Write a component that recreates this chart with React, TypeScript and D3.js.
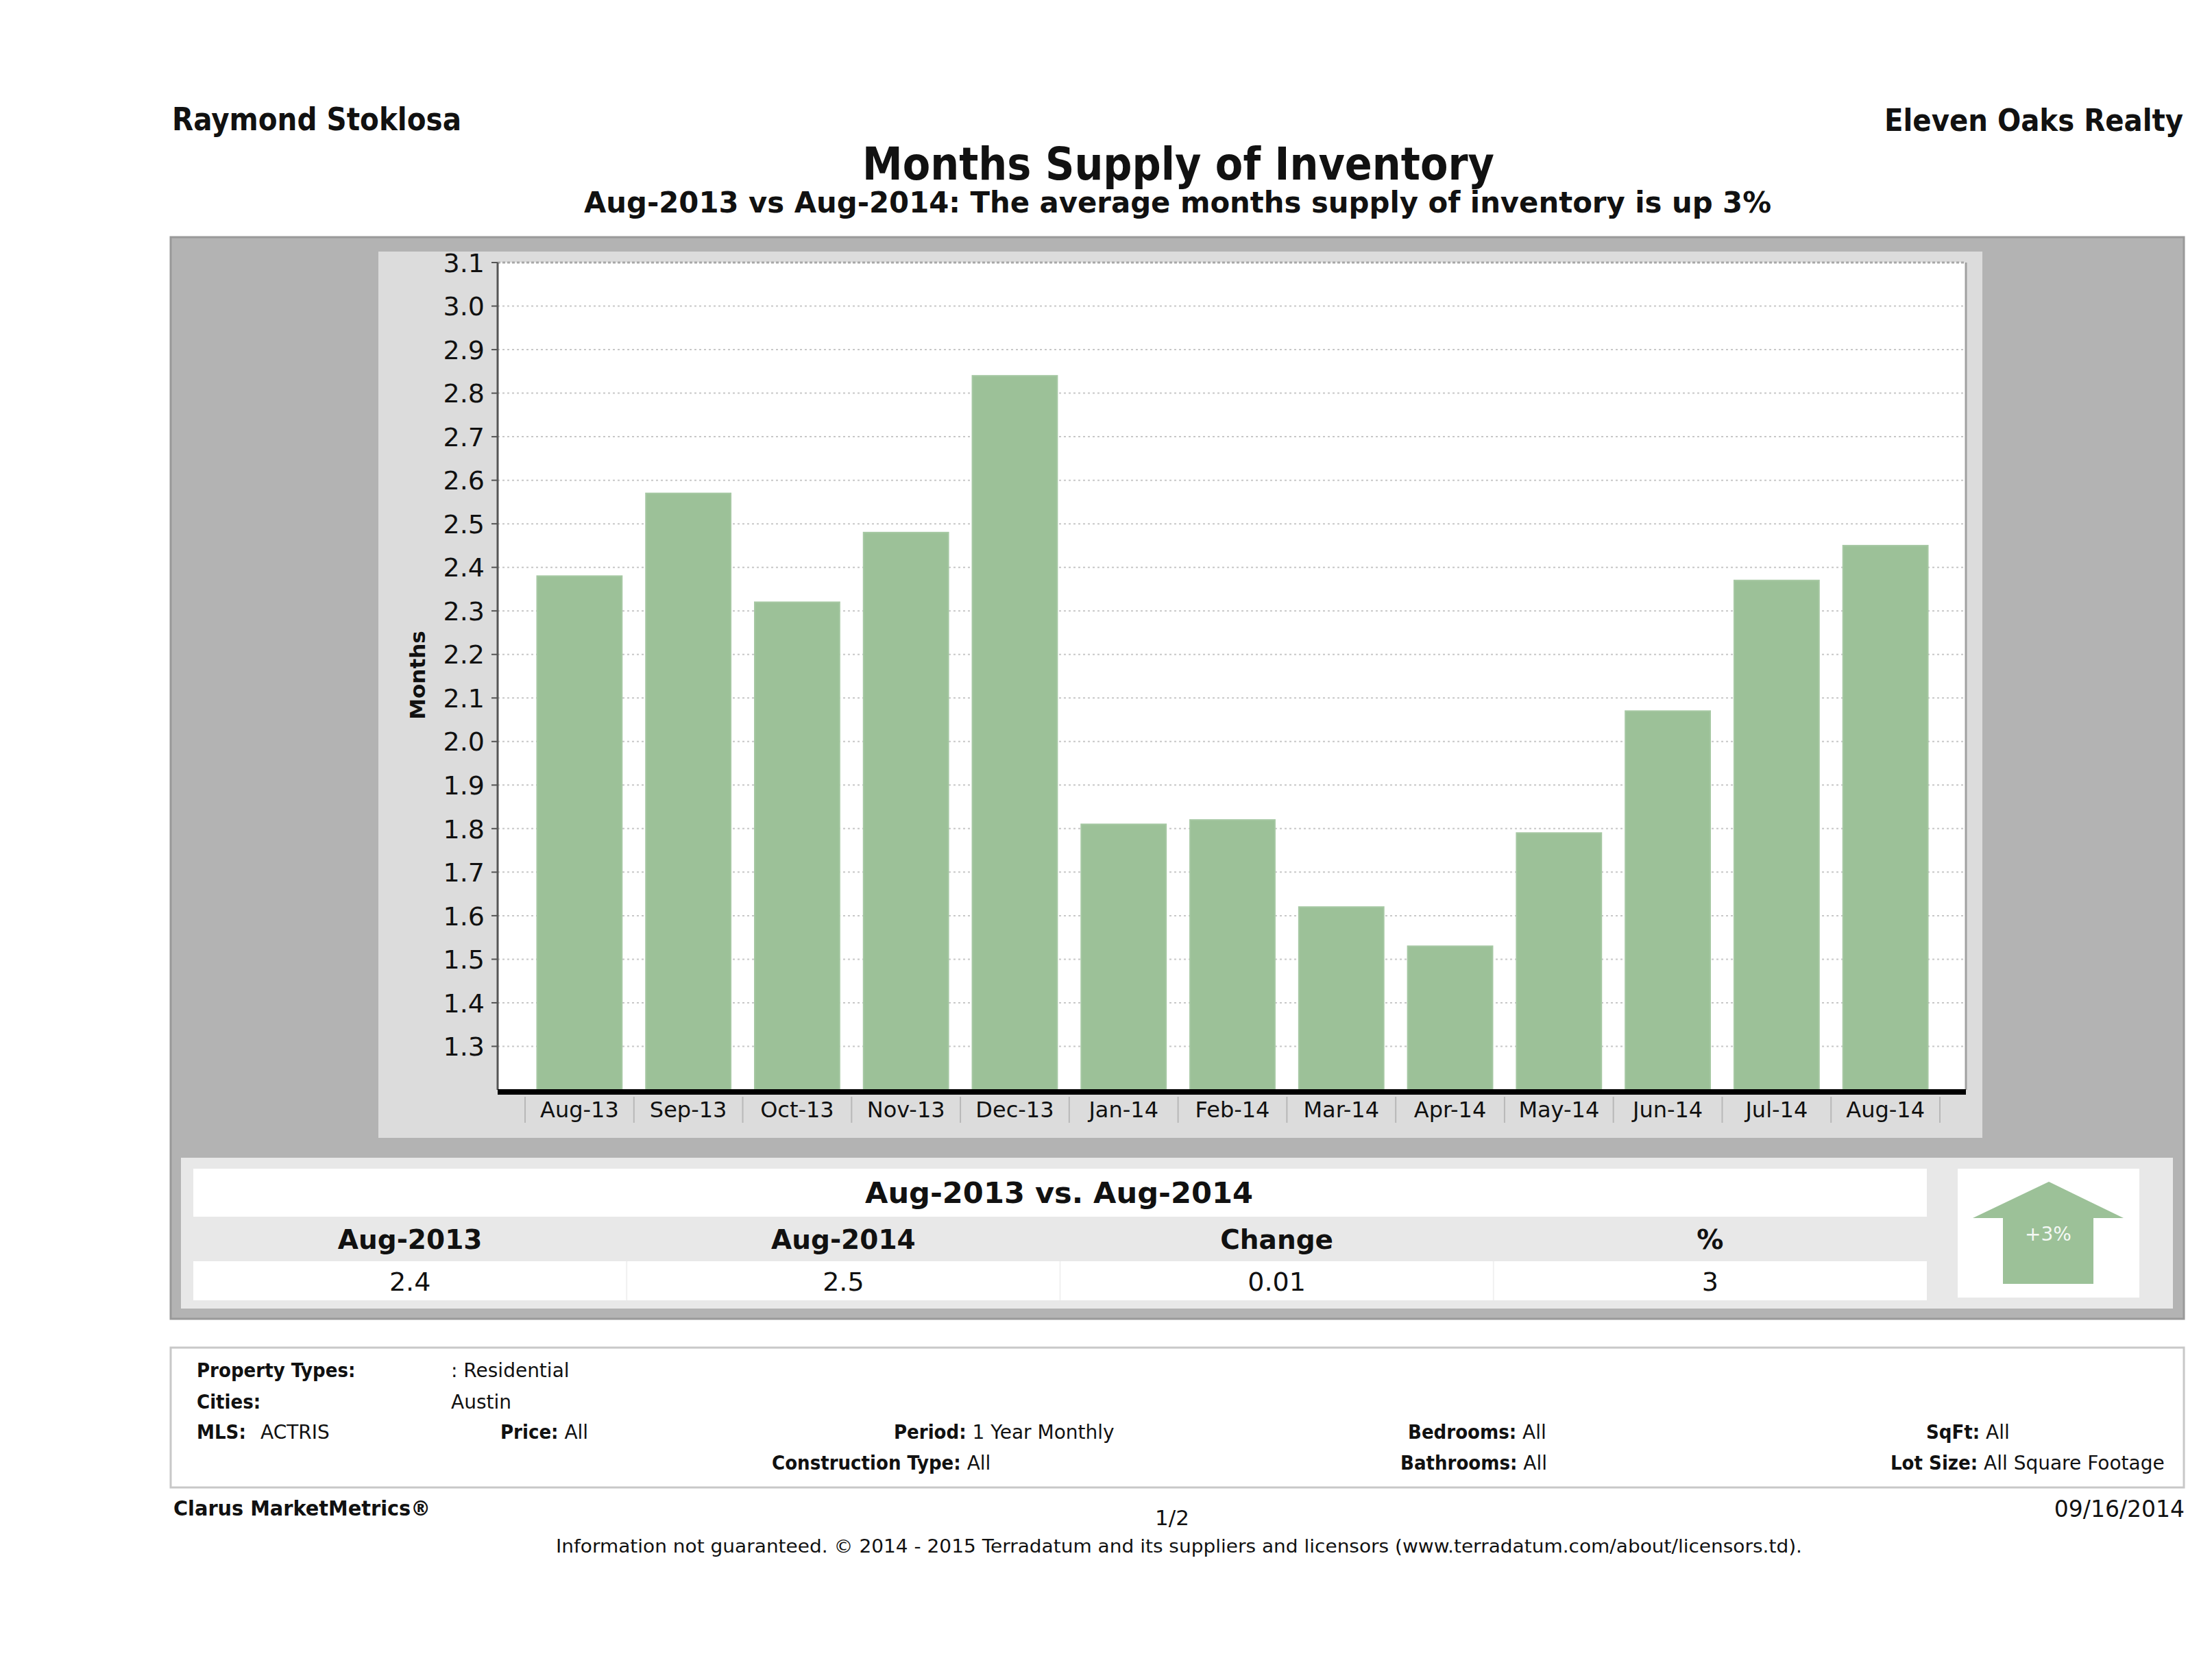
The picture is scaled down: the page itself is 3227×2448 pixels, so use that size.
import React from "react";
import * as d3 from "d3";

// ---------- data ----------
const months = ["Aug-13", "Sep-13", "Oct-13", "Nov-13", "Dec-13", "Jan-14", "Feb-14", "Mar-14", "Apr-14", "May-14", "Jun-14", "Jul-14", "Aug-14"];
const supply = [2.38, 2.57, 2.32, 2.48, 2.84, 1.81, 1.82, 1.62, 1.53, 1.79, 2.07, 2.37, 2.45];
const yTickValues = [1.3, 1.4, 1.5, 1.6, 1.7, 1.8, 1.9, 2.0, 2.1, 2.2, 2.3, 2.4, 2.5, 2.6, 2.7, 2.8, 2.9, 3.0, 3.1];
const yDomain = [1.2, 3.1];

const summaryTitle = "Aug-2013 vs. Aug-2014";
const summaryHeaders = ["Aug-2013", "Aug-2014", "Change", "%"];
const summaryValues = ["2.4", "2.5", "0.01", "3"];
const changeLabel = "+3%";

const agentName = "Raymond Stoklosa";
const brokerName = "Eleven Oaks Realty";
const chartTitle = "Months Supply of Inventory";
const chartSubtitle = "Aug-2013 vs Aug-2014: The average months supply of inventory is up 3%";
const yAxisLabel = "Months";

const filterRows = [
  { label: "Property Types:", value: ": Residential", lx: 287, vx: 658, row: 0 },
  { label: "Cities:", value: "Austin", lx: 287, vx: 658, row: 1 },
  { label: "MLS:", value: "ACTRIS", lx: 287, vx: 380, row: 2 },
  { label: "Price:", value: "All", lx: 730, vx: null, row: 2 },
  { label: "Period:", value: "1 Year Monthly", lx: 1304, vx: null, row: 2 },
  { label: "Bedrooms:", value: "All", lx: 2054, vx: null, row: 2 },
  { label: "SqFt:", value: " All", lx: 2810, vx: null, row: 2 },
  { label: "Construction Type:", value: "All", lx: 1126, vx: null, row: 3 },
  { label: "Bathrooms:", value: "All", lx: 2043, vx: null, row: 3 },
  { label: "Lot Size:", value: " All Square Footage", lx: 2758, vx: null, row: 3 },
];

const footerLeft = "Clarus MarketMetrics®";
const footerPage = "1/2";
const footerDate = "09/16/2014";
const footerNote = "Information not guaranteed. © 2014 - 2015 Terradatum and its suppliers and licensors (www.terradatum.com/about/licensors.td).";

// ---------- layout ----------
const W = 3227;
const H = 2448;
const plot = { left: 726, right: 2868, top: 383, bottom: 1590 };
const FONT = "'DejaVu Sans', 'Noto Sans', sans-serif";
const BAR = "#9cc198";

export default function App() {
  const x = d3
    .scaleBand<string>()
    .domain(months)
    .range([766, 2830])
    .paddingInner(0.22)
    .paddingOuter(0.11);
  const y = d3.scaleLinear().domain(yDomain).range([plot.bottom, plot.top]);

  const sepXs = months.map((m) => (x(m) as number) - x.step() * 0.11);
  sepXs.push(2830);

  const tableLeft = 282;
  const tableRight = 2811;
  const colW = (tableRight - tableLeft) / summaryHeaders.length;

  const rowY = [2009, 2055, 2099, 2144];

  return (
    <svg
      width={W}
      height={H}
      viewBox={`0 0 ${W} ${H}`}
      style={{ position: "absolute", left: 0, top: 0, display: "block", background: "#fff" }}
      fontFamily={FONT}
    >
      <rect x={0} y={0} width={W} height={H} fill="#fff" />

      {/* header */}
      <text x={251} y={190} fontSize={46} fontWeight="bold" fontStretch="condensed" fill="#111" textLength={422} lengthAdjust="spacingAndGlyphs">
        {agentName}
      </text>
      <text x={2749} y={191} fontSize={45} fontWeight="bold" fontStretch="condensed" fill="#111" textLength={436} lengthAdjust="spacingAndGlyphs">
        {brokerName}
      </text>
      <text x={1258} y={262} fontSize={65} fontWeight="bold" fontStretch="condensed" fill="#111" textLength={922} lengthAdjust="spacingAndGlyphs">
        {chartTitle}
      </text>
      <text x={852} y={310} fontSize={42} fontWeight="bold" fontStretch="condensed" fill="#111" textLength={1732} lengthAdjust="spacingAndGlyphs">
        {chartSubtitle}
      </text>

      {/* outer gray panel */}
      <rect x={249} y={346} width={2937} height={1578} fill="#b3b3b3" stroke="#999" strokeWidth={3} />
      {/* chart panel */}
      <rect x={552} y={367} width={2340} height={1293} fill="#dcdcdc" />
      {/* plot area */}
      <rect x={plot.left} y={plot.top} width={plot.right - plot.left} height={plot.bottom - plot.top} fill="#fff" />

      {/* gridlines */}
      {yTickValues.map((t) => (
        <line
          key={"g" + t}
          x1={plot.left}
          x2={plot.right}
          y1={y(t)}
          y2={y(t)}
          stroke="#c8c8c8"
          strokeWidth={2}
          strokeDasharray="3,4"
        />
      ))}

      {/* bars */}
      {months.map((m, i) => (
        <rect
          key={m}
          x={x(m) as number}
          y={y(supply[i])}
          width={x.bandwidth()}
          height={plot.bottom - y(supply[i])}
          fill={BAR}
          stroke="#a6c8a3"
          strokeWidth={2}
        />
      ))}

      {/* plot borders */}
      <line x1={plot.left} x2={plot.right} y1={plot.top} y2={plot.top} stroke="#a8a8a8" strokeWidth={3} strokeDasharray="4,3" />
      <line x1={plot.right} x2={plot.right} y1={plot.top} y2={plot.bottom} stroke="#a0a0a0" strokeWidth={3} />
      <line x1={plot.left} x2={plot.left} y1={plot.top} y2={plot.bottom} stroke="#555" strokeWidth={3} />
      <line x1={plot.left} x2={plot.right} y1={plot.bottom + 3} y2={plot.bottom + 3} stroke="#000" strokeWidth={8} />

      {/* y ticks & labels */}
      {yTickValues.map((t) => (
        <g key={"t" + t}>
          <line x1={plot.left - 9} x2={plot.left} y1={y(t)} y2={y(t)} stroke="#555" strokeWidth={2} />
          <text x={707} y={y(t)} dy="0.36em" fontSize={38} textAnchor="end" fill="#111">
            {t.toFixed(1)}
          </text>
        </g>
      ))}
      <text
        transform={`translate(620,985) rotate(-90)`}
        fontSize={31}
        fontWeight="bold"
        textAnchor="middle"
        fill="#111"
      >
        {yAxisLabel}
      </text>

      {/* x separators & labels */}
      {sepXs.map((sx, i) => (
        <line key={"s" + i} x1={sx} x2={sx} y1={1600} y2={1638} stroke="#b8b8b8" strokeWidth={2} />
      ))}
      {months.map((m) => (
        <text key={"l" + m} x={(x(m) as number) + x.bandwidth() / 2} y={1630} fontSize={32} textAnchor="middle" fill="#111">
          {m}
        </text>
      ))}

      {/* summary table */}
      <rect x={264} y={1689} width={2906} height={220} fill="#e8e8e8" />
      <rect x={tableLeft} y={1705} width={tableRight - tableLeft} height={70} fill="#fff" />
      <rect x={tableLeft} y={1840} width={tableRight - tableLeft} height={57} fill="#fff" />
      {summaryHeaders.slice(1).map((_, i) => (
        <line
          key={"cs" + i}
          x1={tableLeft + colW * (i + 1)}
          x2={tableLeft + colW * (i + 1)}
          y1={1840}
          y2={1897}
          stroke="#f0f0f0"
          strokeWidth={2}
        />
      ))}
      <text x={1262} y={1755} fontSize={42} fontWeight="bold" fill="#111" textLength={566} lengthAdjust="spacingAndGlyphs">
        {summaryTitle}
      </text>
      {summaryHeaders.map((h, i) => (
        <text key={"h" + h} x={tableLeft + colW * (i + 0.5)} y={1822} fontSize={39} fontWeight="bold" textAnchor="middle" fill="#111">
          {h}
        </text>
      ))}
      {summaryValues.map((v, i) => (
        <text key={"v" + i} x={tableLeft + colW * (i + 0.5)} y={1883} fontSize={38} textAnchor="middle" fill="#111">
          {v}
        </text>
      ))}

      {/* arrow box */}
      <rect x={2856} y={1705} width={265} height={188} fill="#fff" />
      <path
        d="M2989,1724 L3098,1777 L3054,1777 L3054,1873 L2922,1873 L2922,1777 L2878,1777 Z"
        fill={BAR}
      />
      <text x={2988} y={1810} fontSize={28} textAnchor="middle" fill="#f4f8f4">
        {changeLabel}
      </text>

      {/* filter box */}
      <rect x={249} y={1966} width={2937} height={204} fill="#fff" stroke="#c8c8c8" strokeWidth={3} />
      {filterRows.map((f, i) => (
        <text key={"f" + i} x={f.lx} y={rowY[f.row]} fontSize={28} fill="#111">
          <tspan fontWeight="bold" fontStretch="condensed" fontSize={29}>{f.label}</tspan>
          {f.vx !== null ? (
            <tspan x={f.vx} fontSize={28}>{f.value}</tspan>
          ) : (
            <tspan fontSize={28}>{" " + f.value.trim()}</tspan>
          )}
        </text>
      ))}

      {/* footer */}
      <text x={253} y={2211} fontSize={31} fontWeight="bold" fontStretch="condensed" fill="#111" textLength={375} lengthAdjust="spacingAndGlyphs">
        {footerLeft}
      </text>
      <text x={1710} y={2225} fontSize={31} textAnchor="middle" fill="#111">
        {footerPage}
      </text>
      <text x={3187} y={2213} fontSize={33} textAnchor="end" fill="#111">
        {footerDate}
      </text>
      <text x={811} y={2265} fontSize={27} fill="#111" textLength={1818} lengthAdjust="spacingAndGlyphs">
        {footerNote}
      </text>
    </svg>
  );
}
